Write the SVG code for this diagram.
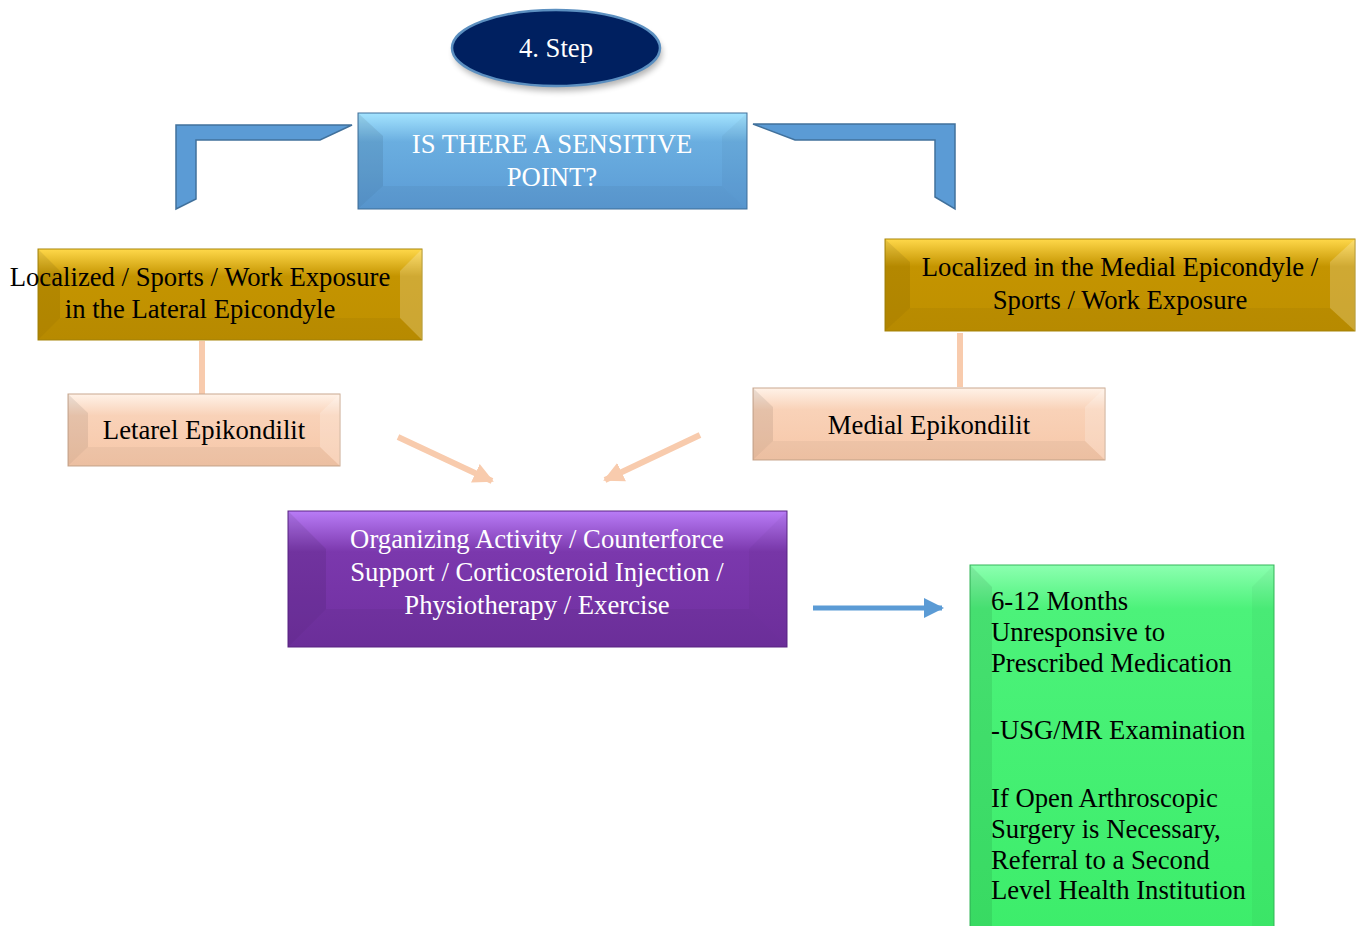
<svg xmlns="http://www.w3.org/2000/svg" width="1362" height="926" viewBox="0 0 1362 926">
<defs>
<style>
text{font-family:"Liberation Serif","Times New Roman",serif;font-size:26.7px}
.w{fill:#ffffff}.k{fill:#000000}
.c{text-anchor:middle}
.bt{fill:#ffffff;opacity:.2}.bl{fill:#000000;opacity:.08}.br{fill:#000000;opacity:.03}.bb{fill:#000000;opacity:.04}
.bracket{fill:#5b9bd5;stroke:#41719c;stroke-width:1.5}
.peachline{stroke:#f8cbad;stroke-width:6;fill:none}
</style>
<linearGradient id="gBlue" x1="0" y1="0" x2="0" y2="1"><stop offset="0" stop-color="#a4e4ff"/><stop offset="0.3" stop-color="#6aaee0"/><stop offset="1" stop-color="#5b9bd5"/></linearGradient>
<linearGradient id="gGold" x1="0" y1="0" x2="0" y2="1"><stop offset="0" stop-color="#ffd84a"/><stop offset="0.3" stop-color="#c49400"/><stop offset="1" stop-color="#bf9000"/></linearGradient>
<linearGradient id="gPeach" x1="0" y1="0" x2="0" y2="1"><stop offset="0" stop-color="#fff2e8"/><stop offset="0.3" stop-color="#f9d2b8"/><stop offset="1" stop-color="#f6c7a8"/></linearGradient>
<linearGradient id="gPurple" x1="0" y1="0" x2="0" y2="1"><stop offset="0" stop-color="#b97cf7"/><stop offset="0.3" stop-color="#7b38ad"/><stop offset="1" stop-color="#7030a0"/></linearGradient>
<linearGradient id="gGreen" x1="0" y1="0" x2="0" y2="1"><stop offset="0" stop-color="#8cffb0"/><stop offset="0.12" stop-color="#4cf27a"/><stop offset="1" stop-color="#3ded6b"/></linearGradient>
<filter id="sh" x="-20%" y="-20%" width="140%" height="160%"><feGaussianBlur stdDeviation="3"/></filter>
<marker id="ahPeach" viewBox="0 0 10 10" refX="9" refY="5" markerWidth="3.4" markerHeight="3.4" orient="auto" markerUnits="strokeWidth"><path d="M0,0 L10,5 L0,10 z" fill="#f8cbad"/></marker>
<marker id="ahBlue" viewBox="0 0 10 10" refX="9" refY="5" markerWidth="4" markerHeight="4" orient="auto" markerUnits="strokeWidth"><path d="M0,0 L10,5 L0,10 z" fill="#5b9bd5"/></marker>
</defs>
<rect width="1362" height="926" fill="#ffffff"/>

<g id="step">
<ellipse cx="558" cy="53" rx="104" ry="38" fill="#000000" opacity="0.3" filter="url(#sh)"/>
<ellipse cx="556" cy="48" rx="104" ry="38" fill="#002060" stroke="#5b8fc0" stroke-width="2.5"/>
<text x="556" y="57" class="w c">4. Step</text>
</g>

<g id="connectors">
<polygon class="bracket" points="176,125 352,125 320,140 196,140 196,199 176,209"/>
<polygon class="bracket" points="753,124 955,124 955,209 935,197 935,140 795,140"/>
<line class="peachline" x1="202" y1="341" x2="202" y2="395"/>
<line class="peachline" x1="960" y1="333" x2="960" y2="387"/>
<line class="peachline" x1="398" y1="437" x2="492" y2="481" marker-end="url(#ahPeach)"/>
<line class="peachline" x1="700" y1="435" x2="605" y2="480" marker-end="url(#ahPeach)"/>
<line x1="813" y1="608" x2="942" y2="608" stroke="#5b9bd5" stroke-width="5" marker-end="url(#ahBlue)"/>
</g>

<g id="question">
<rect x="358" y="113" width="389" height="96" fill="url(#gBlue)" stroke="#41719c" stroke-width="1"/>
<polygon class="bl" points="358,113 383,136 383,186 358,209"/>
<polygon class="br" points="747,113 747,209 722,186 722,136"/>
<polygon class="bb" points="358,209 383,186 722,186 747,209"/>
<text x="552" y="153" class="w c">IS THERE A SENSITIVE</text>
<text x="552" y="186" class="w c">POINT?</text>
</g>

<g id="lateral">
<rect x="38" y="249" width="384" height="91" fill="url(#gGold)" stroke="#a8860a" stroke-width="1"/>
<polygon class="bl" points="38,249 60,271 60,318 38,340"/>
<polygon class="bt" points="422,249 422,340 400,318 400,271"/>
<polygon class="bb" points="38,340 60,318 400,318 422,340"/>
<text x="200" y="286" class="k c">Localized / Sports / Work Exposure</text>
<text x="200" y="318" class="k c">in the Lateral Epicondyle</text>
</g>

<g id="medial">
<rect x="885" y="239" width="470" height="92" fill="url(#gGold)" stroke="#a8860a" stroke-width="1"/>
<polygon class="bl" points="885,239 910,262 910,308 885,331"/>
<polygon class="bt" points="1355,239 1355,331 1330,308 1330,262"/>
<polygon class="bb" points="885,331 910,308 1330,308 1355,331"/>
<text x="1120" y="276" class="k c">Localized in the Medial Epicondyle /</text>
<text x="1120" y="309" class="k c">Sports / Work Exposure</text>
</g>

<g id="lateralEpi">
<rect x="68" y="394" width="272" height="72" fill="url(#gPeach)" stroke="#c9a88f" stroke-width="1"/>
<polygon class="bl" points="68,394 88,413 88,447 68,466"/>
<polygon class="bt" points="340,394 340,466 320,447 320,413"/>
<polygon class="bb" points="68,466 88,447 320,447 340,466"/>
<text x="204" y="439" class="k c">Letarel Epikondilit</text>
</g>

<g id="medialEpi">
<rect x="753" y="388" width="352" height="72" fill="url(#gPeach)" stroke="#c9a88f" stroke-width="1"/>
<polygon class="bl" points="753,388 773,407 773,441 753,460"/>
<polygon class="bt" points="1105,388 1105,460 1085,441 1085,407"/>
<polygon class="bb" points="753,460 773,441 1085,441 1105,460"/>
<text x="929" y="434" class="k c">Medial Epikondilit</text>
</g>

<g id="treatment">
<rect x="288" y="511" width="499" height="136" fill="url(#gPurple)" stroke="#5a2585" stroke-width="1"/>
<polygon class="bl" points="288,511 326,549 326,609 288,647"/>
<polygon class="br" points="787,511 787,647 749,609 749,549"/>
<polygon class="bb" points="288,647 326,609 749,609 787,647"/>
<text x="537" y="548" class="w c">Organizing Activity / Counterforce</text>
<text x="537" y="581" class="w c">Support / Corticosteroid Injection /</text>
<text x="537" y="614" class="w c">Physiotherapy / Exercise</text>
</g>

<g id="referral">
<rect x="970" y="565" width="304" height="365" fill="url(#gGreen)" stroke="#35b85a" stroke-width="1"/>
<polygon class="bl" points="970,565 992,587 992,926 970,926"/>
<polygon class="br" points="1274,565 1274,926 1252,926 1252,587"/>
<text x="991" y="610" class="k">6-12 Months</text>
<text x="991" y="641" class="k">Unresponsive to</text>
<text x="991" y="672" class="k">Prescribed Medication</text>
<text x="991" y="739" class="k">-USG/MR Examination</text>
<text x="991" y="807" class="k">If Open Arthroscopic</text>
<text x="991" y="838" class="k">Surgery is Necessary,</text>
<text x="991" y="869" class="k">Referral to a Second</text>
<text x="991" y="899" class="k">Level Health Institution</text>
</g>
</svg>
